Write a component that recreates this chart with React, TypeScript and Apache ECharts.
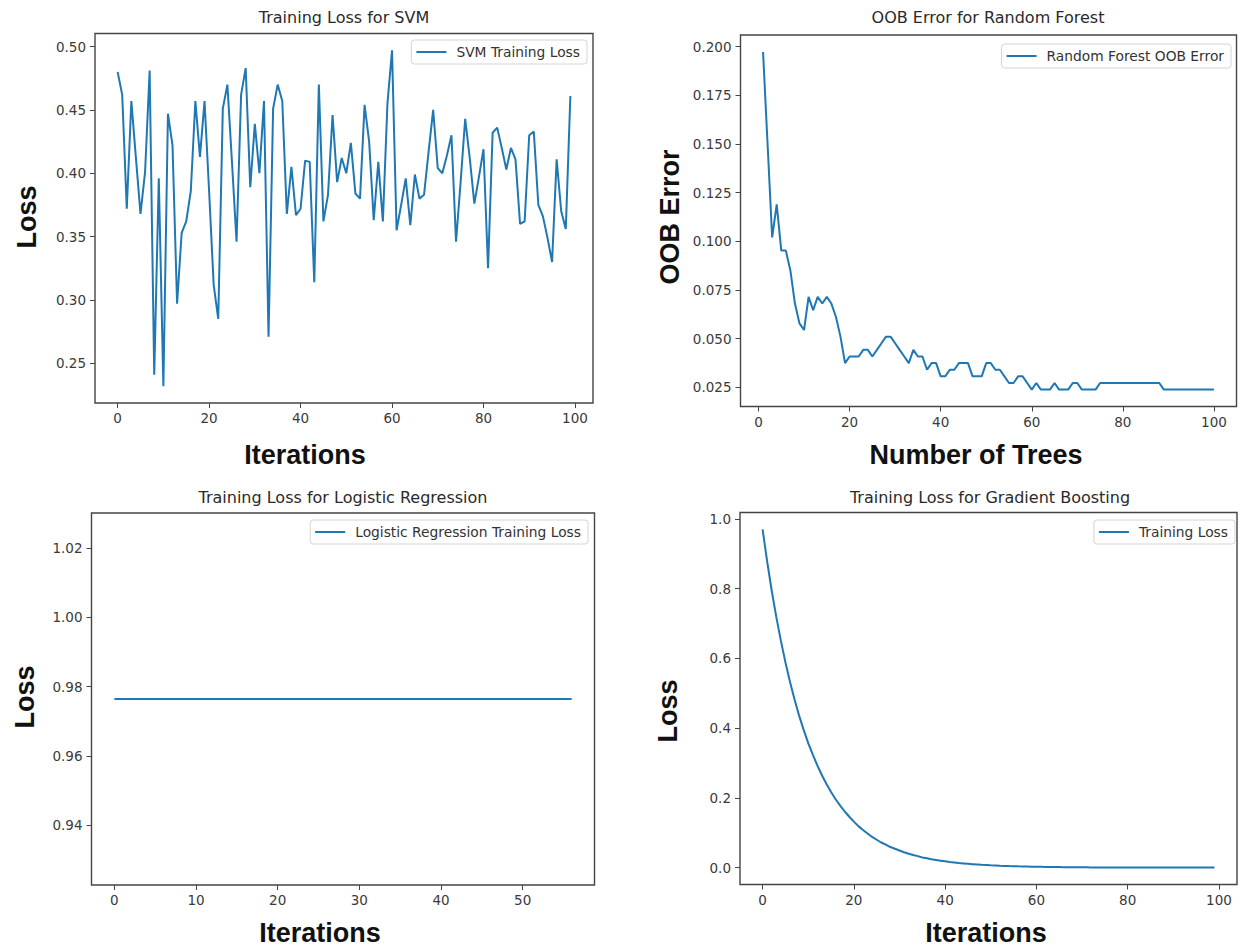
import React, { useEffect, useRef } from "react";
import * as echarts from "echarts";

// ---------- data ----------
const svmIterations = [0, 20, 40, 60, 80, 100];
const svmTicks = [0.25, 0.3, 0.35, 0.4, 0.45, 0.5];
const svmLoss = [
  0.480, 0.462, 0.372, 0.457, 0.412, 0.368, 0.401, 0.481, 0.241, 0.396,
  0.232, 0.447, 0.422, 0.297, 0.353, 0.362, 0.386, 0.457, 0.413, 0.457,
  0.386, 0.312, 0.285, 0.451, 0.470, 0.409, 0.346, 0.462, 0.483, 0.389,
  0.439, 0.400, 0.457, 0.271, 0.451, 0.470, 0.457, 0.368, 0.405, 0.367,
  0.372, 0.410, 0.409, 0.314, 0.470, 0.362, 0.383, 0.446, 0.393, 0.412,
  0.400, 0.424, 0.384, 0.380, 0.454, 0.425, 0.363, 0.409, 0.362, 0.455,
  0.497, 0.355, 0.375, 0.396, 0.359, 0.399, 0.380, 0.383, 0.417, 0.450,
  0.404, 0.400, 0.414, 0.430, 0.346, 0.393, 0.443, 0.412, 0.376, 0.397,
  0.419, 0.325, 0.432, 0.436, 0.420, 0.403, 0.420, 0.411, 0.360, 0.362,
  0.430, 0.433, 0.375, 0.366, 0.349, 0.330, 0.411, 0.370, 0.356, 0.461,
];

const rfTreeTicks = [0, 20, 40, 60, 80, 100];
const rfErrorTicks = [0.025, 0.05, 0.075, 0.1, 0.125, 0.15, 0.175, 0.2];
const rfOobError = [
  0.1973, 0.1497, 0.1020, 0.1190, 0.0952, 0.0952, 0.0850, 0.0680, 0.0578, 0.0544,
  0.0714, 0.0646, 0.0714, 0.0680, 0.0714, 0.0680, 0.0612, 0.0510, 0.0374, 0.0408,
  0.0408, 0.0408, 0.0442, 0.0442, 0.0408, 0.0442, 0.0476, 0.0510, 0.0510, 0.0476,
  0.0442, 0.0408, 0.0374, 0.0442, 0.0408, 0.0408, 0.0340, 0.0374, 0.0374, 0.0306,
  0.0306, 0.0340, 0.0340, 0.0374, 0.0374, 0.0374, 0.0306, 0.0306, 0.0306, 0.0374,
  0.0374, 0.0340, 0.0340, 0.0306, 0.0272, 0.0272, 0.0306, 0.0306, 0.0272, 0.0238,
  0.0272, 0.0238, 0.0238, 0.0238, 0.0272, 0.0238, 0.0238, 0.0238, 0.0272, 0.0272,
  0.0238, 0.0238, 0.0238, 0.0238, 0.0272, 0.0272, 0.0272, 0.0272, 0.0272, 0.0272,
  0.0272, 0.0272, 0.0272, 0.0272, 0.0272, 0.0272, 0.0272, 0.0272, 0.0238, 0.0238,
  0.0238, 0.0238, 0.0238, 0.0238, 0.0238, 0.0238, 0.0238, 0.0238, 0.0238, 0.0238,
];

const lrIterationTicks = [0, 10, 20, 30, 40, 50];
const lrLossTicks = [0.94, 0.96, 0.98, 1.0, 1.02];
const lrLoss = [
  0.9764, 0.9764, 0.9764, 0.9764, 0.9764, 0.9764, 0.9764, 0.9764, 0.9764, 0.9764,
  0.9764, 0.9764, 0.9764, 0.9764, 0.9764, 0.9764, 0.9764, 0.9764, 0.9764, 0.9764,
  0.9764, 0.9764, 0.9764, 0.9764, 0.9764, 0.9764, 0.9764, 0.9764, 0.9764, 0.9764,
  0.9764, 0.9764, 0.9764, 0.9764, 0.9764, 0.9764, 0.9764, 0.9764, 0.9764, 0.9764,
  0.9764, 0.9764, 0.9764, 0.9764, 0.9764, 0.9764, 0.9764, 0.9764, 0.9764, 0.9764,
  0.9764, 0.9764, 0.9764, 0.9764, 0.9764, 0.9764, 0.9764,
];

const gbIterationTicks = [0, 20, 40, 60, 80, 100];
const gbLossTicks = [0.0, 0.2, 0.4, 0.6, 0.8, 1.0];
const gbLoss = [
  0.970, 0.878, 0.794, 0.719, 0.651, 0.589, 0.533, 0.482, 0.436, 0.395,
  0.357, 0.324, 0.293, 0.265, 0.240, 0.217, 0.196, 0.178, 0.161, 0.146,
  0.132, 0.119, 0.108, 0.098, 0.088, 0.080, 0.072, 0.066, 0.059, 0.054,
  0.049, 0.044, 0.040, 0.036, 0.033, 0.029, 0.027, 0.024, 0.022, 0.020,
  0.018, 0.016, 0.015, 0.013, 0.012, 0.011, 0.010, 0.009, 0.008, 0.0073,
  0.0066, 0.0060, 0.0054, 0.0049, 0.0044, 0.0040, 0.0036, 0.0033, 0.0030, 0.0027,
  0.0024, 0.0022, 0.0020, 0.0018, 0.0016, 0.0015, 0.0013, 0.0012, 0.0011, 0.0010,
  0.0009, 0.0008, 0.0007, 0.0007, 0.0006, 0.0005, 0.0005, 0.0004, 0.0004, 0.0004,
  0.0003, 0.0003, 0.0003, 0.0002, 0.0002, 0.0002, 0.0002, 0.0002, 0.0001, 0.0001,
  0.0001, 0.0001, 0.0001, 0.0001, 0.0001, 0.0001, 0.0001, 0.0001, 0.0001, 0.0001,
];

// ---------- styling ----------
const LINE = "#1f77b4";
const TICK_FONT = "DejaVu Sans";
const BOLD_FONT = "Liberation Sans";
const FRAME = "#444444";
const TICK_SIZE = 13.5;

function xAxisOf(gridIndex: number, min: number, max: number, ticks: number[]) {
  return {
    gridIndex,
    type: "value",
    min,
    max,
    axisLine: { show: false, onZero: false },
    splitLine: { show: false },
    axisTick: { show: true, length: 5, customValues: ticks, lineStyle: { color: FRAME, width: 1 } },
    axisLabel: {
      customValues: ticks,
      formatter: (v: number) => String(Math.round(v)),
      color: "#3a3a3a",
      fontSize: TICK_SIZE,
      fontFamily: TICK_FONT,
      margin: 8,
    },
  };
}

function yAxisOf(gridIndex: number, min: number, max: number, ticks: number[], digits: number) {
  return {
    gridIndex,
    type: "value",
    min,
    max,
    axisLine: { show: false, onZero: false },
    splitLine: { show: false },
    axisTick: { show: true, length: 5, customValues: ticks, lineStyle: { color: FRAME, width: 1 } },
    axisLabel: {
      customValues: ticks,
      formatter: (v: number) => v.toFixed(digits),
      color: "#3a3a3a",
      fontSize: TICK_SIZE,
      fontFamily: TICK_FONT,
      margin: 9,
    },
  };
}

function legendOf(name: string, right: number, top: number) {
  return {
    data: [name],
    right,
    top,
    orient: "horizontal",
    icon: "rect",
    itemWidth: 30,
    itemHeight: 2,
    padding: [5, 7, 5, 5],
    backgroundColor: "rgba(255,255,255,0.85)",
    borderColor: "#d4d4d4",
    borderWidth: 1,
    borderRadius: 3,
    textStyle: { color: "#333", fontSize: 13.8, fontFamily: TICK_FONT, padding: [0, 0, 0, 5] },
    selectedMode: false,
  };
}

function lineSeries(name: string, idx: number, data: number[][]) {
  return {
    name,
    type: "line",
    xAxisIndex: idx,
    yAxisIndex: idx,
    data,
    showSymbol: false,
    symbol: "none",
    lineStyle: { color: LINE, width: 2 },
    itemStyle: { color: LINE },
    silent: true,
  };
}

function text(t: string, x: number, y: number, size: number, bold: boolean, rotate = false) {
  return {
    type: "text",
    x,
    y,
    rotation: rotate ? Math.PI / 2 : 0,
    style: {
      text: t,
      fontSize: size,
      fontWeight: bold ? "bold" : "normal",
      fontFamily: bold ? BOLD_FONT : TICK_FONT,
      fill: bold ? "#111" : "#2a2a2a",
      align: "center",
      verticalAlign: "middle",
    },
  };
}

export default function App() {
  const ref = useRef<HTMLDivElement>(null);

  useEffect(() => {
    if (!ref.current) return;
    const chart = echarts.init(ref.current, undefined, { renderer: "svg" });

    const gridBase = { show: true, borderColor: FRAME, borderWidth: 1.4, backgroundColor: "transparent", containLabel: false };

    const option = {
      animation: false,
      backgroundColor: "#ffffff",
      grid: [
        { ...gridBase, left: 95, top: 33.5, width: 498, height: 369.5 },
        { ...gridBase, left: 740.5, top: 35, width: 496, height: 371.5 },
        { ...gridBase, left: 91.5, top: 513, width: 503, height: 372 },
        { ...gridBase, left: 740, top: 512.5, width: 497, height: 372 },
      ],
      xAxis: [
        xAxisOf(0, -4.95, 103.95, svmIterations),
        xAxisOf(1, -3.95, 104.95, rfTreeTicks),
        xAxisOf(2, -2.8, 58.8, lrIterationTicks),
        xAxisOf(3, -4.95, 103.95, gbIterationTicks),
      ],
      yAxis: [
        yAxisOf(0, 0.2187, 0.5103, svmTicks, 2),
        yAxisOf(1, 0.0151, 0.206, rfErrorTicks, 3),
        yAxisOf(2, 0.9227, 1.0301, lrLossTicks, 2),
        yAxisOf(3, -0.0484, 1.0185, gbLossTicks, 1),
      ],
      legend: [
        legendOf("SVM Training Loss", 652, 40),
        legendOf("Random Forest OOB Error", 8, 44),
        legendOf("Logistic Regression Training Loss", 651, 520),
        legendOf("Training Loss", 4, 520),
      ],
      series: [
        lineSeries("SVM Training Loss", 0, svmLoss.map((v, i) => [i, v])),
        lineSeries("Random Forest OOB Error", 1, rfOobError.map((v, i) => [i + 1, v])),
        lineSeries("Logistic Regression Training Loss", 2, lrLoss.map((v, i) => [i, v])),
        lineSeries("Training Loss", 3, gbLoss.map((v, i) => [i, v])),
      ],
      graphic: [
        text("Training Loss for SVM", 344, 17, 16, false),
        text("OOB Error for Random Forest", 988, 17, 16, false),
        text("Training Loss for Logistic Regression", 343, 497, 16, false),
        text("Training Loss for Gradient Boosting", 990, 497, 16, false),
        text("Iterations", 305, 455, 27, true),
        text("Number of Trees", 976, 455, 27, true),
        text("Iterations", 320, 933, 27, true),
        text("Iterations", 986, 933, 27, true),
        text("Loss", 27, 217, 27, true, true),
        text("OOB Error", 670, 217, 27, true, true),
        text("Loss", 25, 697, 27, true, true),
        text("Loss", 668, 711, 27, true, true),
      ],
    };

    chart.setOption(option as any);
    return () => chart.dispose();
  }, []);

  return (
    <div
      ref={ref}
      style={{ position: "fixed", left: 0, top: 0, width: 1239, height: 949, background: "#fff" }}
    />
  );
}
